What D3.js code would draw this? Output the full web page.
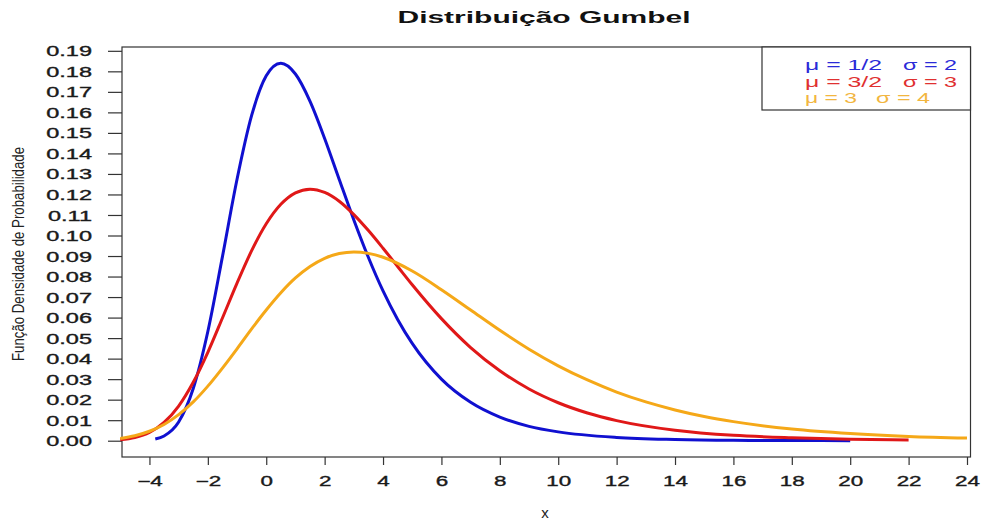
<!DOCTYPE html>
<html>
<head>
<meta charset="utf-8">
<script src="https://cdn.jsdelivr.net/npm/d3@7"></script>
<style>
    body { margin: 0; background: #fff; }
    svg { display: block; }
    text { font-family: Arial, "Liberation Sans", sans-serif; }
</style>
</head>
<body>
<svg id="chart"></svg>
<script>
// values
var xBlue = [-3.8, -3.5, -3, -2.5, -2, -1.5, -1, -0.5, 0, 0.5, 1, 1.5, 2, 2.5, 3, 3.5, 4, 4.5, 5, 6, 7, 8, 9, 10, 12, 14, 16, 18, 20];
var yBlue = [0.0008, 0.0023, 0.0091, 0.0254, 0.0532, 0.0897, 0.1274, 0.1585, 0.1778, 0.1839, 0.1787, 0.1654, 0.1473, 0.1273, 0.1076, 0.0893, 0.0730, 0.0591, 0.0474, 0.0300, 0.0187, 0.0115, 0.0070, 0.0043, 0.0016, 0.0006, 0.0002, 0.0001, 0.0000];

var xRed = [-5, -4.5, -4, -3.5, -3, -2.5, -2, -1.5, -1, -0.5, 0, 0.5, 1, 1.5, 2, 2.5, 3, 3.5, 4, 4.5, 5, 6, 7, 8, 9, 10, 11, 12, 14, 16, 18, 20, 22];
var yRed = [0.0005, 0.0015, 0.0040, 0.0089, 0.0169, 0.0285, 0.0431, 0.0598, 0.0768, 0.0926, 0.1057, 0.1152, 0.1208, 0.1226, 0.1210, 0.1167, 0.1102, 0.1024, 0.0938, 0.0849, 0.0760, 0.0595, 0.0454, 0.0341, 0.0252, 0.0185, 0.0135, 0.0098, 0.0051, 0.0026, 0.0014, 0.0007, 0.0004];

var xOrange = [-5, -4.5, -4, -3.5, -3, -2.5, -2, -1.5, -1, -0.5, 0, 0.5, 1, 1.5, 2, 2.5, 3, 3.5, 4, 5, 6, 7, 8, 9, 10, 11, 12, 13, 14, 15, 16, 18, 20, 22, 24];
var yOrange = [0.0011, 0.0024, 0.0046, 0.0079, 0.0127, 0.0189, 0.0266, 0.0354, 0.0448, 0.0545, 0.0637, 0.0721, 0.0793, 0.0849, 0.0889, 0.0912, 0.0920, 0.0913, 0.0894, 0.0827, 0.0736, 0.0637, 0.0538, 0.0446, 0.0365, 0.0296, 0.0237, 0.0189, 0.0150, 0.0118, 0.0093, 0.0057, 0.0035, 0.0021, 0.0013];

var xTicks = [-4, -2, 0, 2, 4, 6, 8, 10, 12, 14, 16, 18, 20, 22, 24];
var yTicks = [0, 0.01, 0.02, 0.03, 0.04, 0.05, 0.06, 0.07, 0.08, 0.09, 0.10, 0.11, 0.12, 0.13, 0.14, 0.15, 0.16, 0.17, 0.18, 0.19];

var legendMu = ["\u03bc = 1/2", "\u03bc = 3/2", "\u03bc = 3"];
var legendSigma = ["\u03c3 = 2", "\u03c3 = 3", "\u03c3 = 4"];

var width = 981,
    height = 521;
var margin = {top: 47, right: 10.5, bottom: 64, left: 122};
var innerwidth = width - margin.left - margin.right,
    innerheight = height - margin.top - margin.bottom;

var series = [
    {x: xBlue, y: yBlue, color: "#1010d0", legend: "#2a2ad8"},
    {x: xRed, y: yRed, color: "#e01818", legend: "#e03030"},
    {x: xOrange, y: yOrange, color: "#f5a818", legend: "#f2b640"}
];

var xScale = d3.scaleLinear().domain([-4.94, 24.12]).range([0, innerwidth]);
var yScale = d3.scaleLinear().domain([-0.00794, 0.19186]).range([innerheight, 0]);

// stretch text wider, the picture is widened
function widen(sel, k) {
    sel.each(function() {
        var w = this.getComputedTextLength();
        d3.select(this).attr("textLength", w * k).attr("lengthAdjust", "spacingAndGlyphs");
    });
}

var svg = d3.select("#chart").attr("width", width).attr("height", height);

var g = svg.append("g")
    .attr("transform", "translate(" + margin.left + "," + margin.top + ")");

var xAxis = g.append("g")
    .attr("transform", "translate(0," + innerheight + ")")
    .call(d3.axisBottom(xScale).tickValues(xTicks).tickSize(8).tickPadding(11).tickFormat(d3.format("d")));

var yAxis = g.append("g")
    .call(d3.axisLeft(yScale).tickValues(yTicks).tickSize(14).tickPadding(16).tickFormat(d3.format(".2f")));

[xAxis, yAxis].forEach(function(ax) {
    ax.select(".domain").remove();
    ax.selectAll(".tick line").attr("stroke", "#333").attr("stroke-width", 1.2);
    ax.selectAll(".tick text")
        .attr("fill", "#1a1a1a")
        .style("font-size", "14px")
        .style("stroke", "#1a1a1a")
        .style("stroke-width", "0.35px");
});
xAxis.selectAll(".tick text").call(widen, 1.6);
yAxis.selectAll(".tick text").attr("dy", "0.36em").call(widen, 1.68);

// plot box
g.append("rect")
    .attr("width", innerwidth)
    .attr("height", innerheight)
    .attr("fill", "none")
    .attr("stroke", "#333")
    .attr("stroke-width", 1.2);

var line = d3.line()
    .x(function(d) { return xScale(d[0]); })
    .y(function(d) { return yScale(d[1]); })
    .curve(d3.curveMonotoneX);

g.selectAll(".curve")
    .data(series)
    .enter().append("path")
    .attr("class", "curve")
    .attr("fill", "none")
    .attr("stroke", function(d) { return d.color; })
    .attr("stroke-width", 3)
    .attr("d", function(d) { return line(d3.zip(d.x, d.y)); });

// legend box in the top right corner
var legendLeft = 762 - margin.left;
g.append("rect")
    .attr("x", legendLeft)
    .attr("y", 0)
    .attr("width", innerwidth - legendLeft)
    .attr("height", 63)
    .attr("fill", "#fff")
    .attr("stroke", "#333")
    .attr("stroke-width", 1.2);

var muLen = [77, 77, 52],
    sigmaX = [903, 903, 876];
series.forEach(function(s, i) {
    var yy = 23 + i * 16.5;
    g.append("text")
        .attr("x", 805 - margin.left)
        .attr("y", yy)
        .attr("fill", s.legend)
        .style("font-size", "15px")
        .attr("textLength", muLen[i])
        .attr("lengthAdjust", "spacingAndGlyphs")
        .text(legendMu[i]);
    g.append("text")
        .attr("x", sigmaX[i] - margin.left)
        .attr("y", yy)
        .attr("fill", s.legend)
        .style("font-size", "15px")
        .attr("textLength", 54)
        .attr("lengthAdjust", "spacingAndGlyphs")
        .text(legendSigma[i]);
});

svg.append("text")
    .attr("x", 544)
    .attr("y", 23)
    .attr("text-anchor", "middle")
    .style("font-size", "16px")
    .style("font-weight", "bold")
    .attr("fill", "#111")
    .attr("textLength", 293)
    .attr("lengthAdjust", "spacingAndGlyphs")
    .text("Distribui\u00e7\u00e3o Gumbel");

svg.append("text")
    .attr("x", 545)
    .attr("y", 518)
    .attr("text-anchor", "middle")
    .style("font-size", "15px")
    .attr("fill", "#222")
    .text("x");

svg.append("text")
    .attr("transform", "translate(24,254) rotate(-90)")
    .attr("text-anchor", "middle")
    .style("font-size", "16px")
    .attr("fill", "#222")
    .attr("textLength", 214)
    .attr("lengthAdjust", "spacingAndGlyphs")
    .text("Fun\u00e7\u00e3o Densidade de Probabilidade");
</script>
</body>
</html>
